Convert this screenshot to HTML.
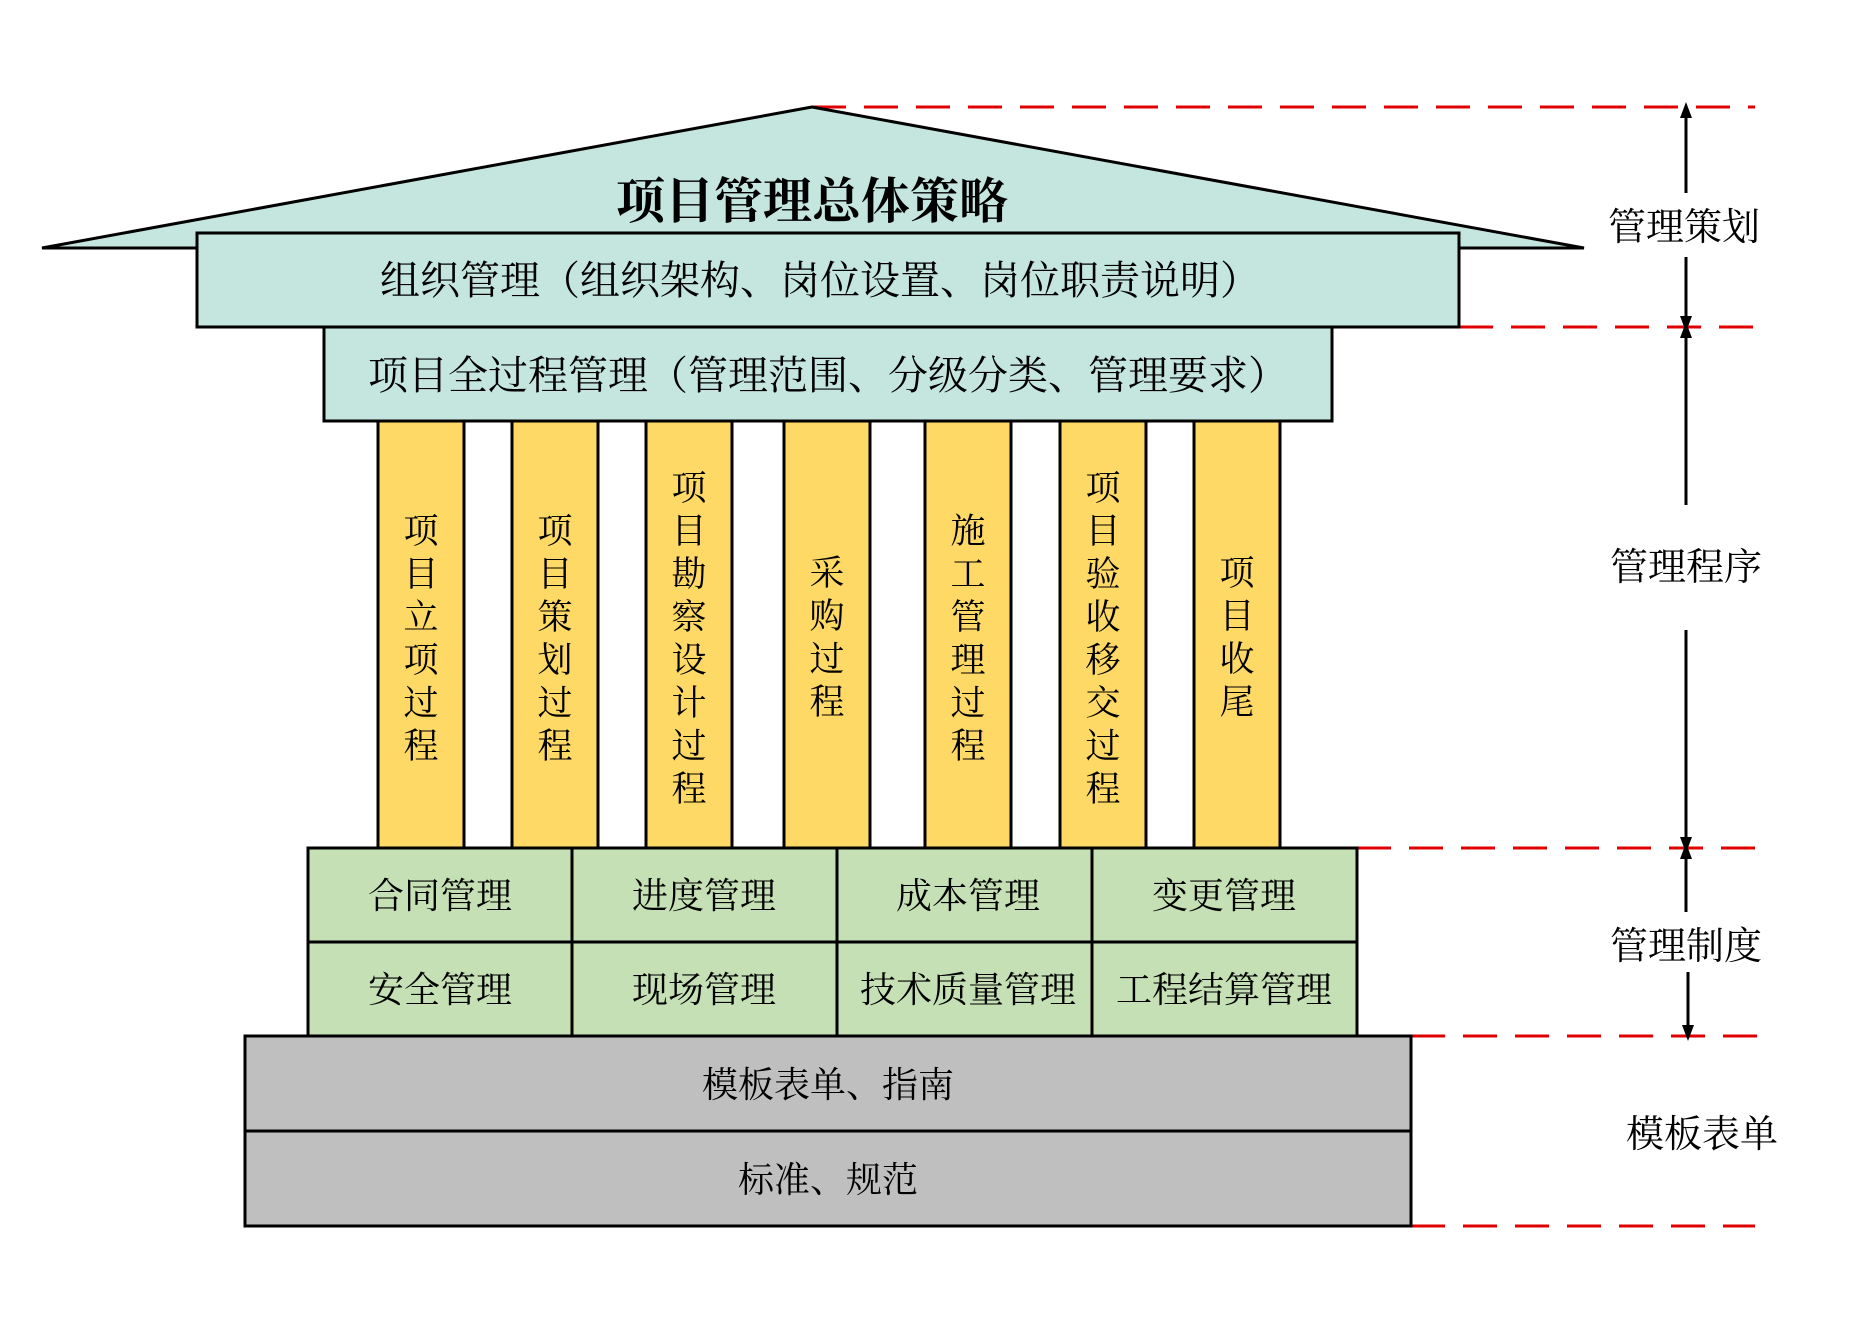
<!DOCTYPE html>
<html><head><meta charset="utf-8"><style>
html,body{margin:0;padding:0;background:#fff;}
svg{display:block;}
text{font-family:"Liberation Serif","Noto Serif CJK SC","Noto Sans CJK SC",serif;fill:#000;}
</style></head><body>
<svg width="1871" height="1323" viewBox="0 0 1871 1323" xmlns="http://www.w3.org/2000/svg">
<defs>
<marker id="ah" markerWidth="16" markerHeight="16" refX="8" refY="8" orient="auto-start-reverse" markerUnits="userSpaceOnUse">
<path d="M0,2 L16,8 L0,14 z" fill="#000"/></marker>
</defs>
<rect width="1871" height="1323" fill="#fff"/>
<g stroke="#e00000" stroke-width="3" stroke-dasharray="34,18">
<line x1="812" y1="107" x2="1755" y2="107"/>
<line x1="1459" y1="327" x2="1755" y2="327"/>
<line x1="1357" y1="848" x2="1765" y2="848"/>
<line x1="1411" y1="1036" x2="1765" y2="1036"/>
<line x1="1411" y1="1226" x2="1755" y2="1226"/>
</g>
<polygon points="812,107 42,248 1584,248" fill="#c4e6de" stroke="#000" stroke-width="3"/>
<text x="812" y="218" font-size="49" font-weight="bold" text-anchor="middle">项目管理总体策略</text>
<rect x="197" y="233" width="1262" height="94" fill="#c4e6de" stroke="#000" stroke-width="3"/>
<text x="820" y="294" font-size="40" text-anchor="middle">组织管理（组织架构、岗位设置、岗位职责说明）</text>
<rect x="324" y="327" width="1008" height="94" fill="#c4e6de" stroke="#000" stroke-width="3"/>
<text x="828" y="389" font-size="40" text-anchor="middle">项目全过程管理（管理范围、分级分类、管理要求）</text>
<g fill="#ffd966" stroke="#000" stroke-width="3">
<rect x="378" y="421" width="86" height="427"/>
<rect x="512" y="421" width="86" height="427"/>
<rect x="646" y="421" width="86" height="427"/>
<rect x="784" y="421" width="86" height="427"/>
<rect x="925" y="421" width="86" height="427"/>
<rect x="1060" y="421" width="86" height="427"/>
<rect x="1194" y="421" width="86" height="427"/>
</g>
<g font-size="35" text-anchor="middle">
<text x="421"><tspan x="421" y="543">项</tspan><tspan x="421" dy="43">目</tspan><tspan x="421" dy="43">立</tspan><tspan x="421" dy="43">项</tspan><tspan x="421" dy="43">过</tspan><tspan x="421" dy="43">程</tspan></text>
<text x="555"><tspan x="555" y="543">项</tspan><tspan x="555" dy="43">目</tspan><tspan x="555" dy="43">策</tspan><tspan x="555" dy="43">划</tspan><tspan x="555" dy="43">过</tspan><tspan x="555" dy="43">程</tspan></text>
<text x="689"><tspan x="689" y="500">项</tspan><tspan x="689" dy="43">目</tspan><tspan x="689" dy="43">勘</tspan><tspan x="689" dy="43">察</tspan><tspan x="689" dy="43">设</tspan><tspan x="689" dy="43">计</tspan><tspan x="689" dy="43">过</tspan><tspan x="689" dy="43">程</tspan></text>
<text x="827"><tspan x="827" y="585">采</tspan><tspan x="827" dy="43">购</tspan><tspan x="827" dy="43">过</tspan><tspan x="827" dy="43">程</tspan></text>
<text x="968"><tspan x="968" y="543">施</tspan><tspan x="968" dy="43">工</tspan><tspan x="968" dy="43">管</tspan><tspan x="968" dy="43">理</tspan><tspan x="968" dy="43">过</tspan><tspan x="968" dy="43">程</tspan></text>
<text x="1103"><tspan x="1103" y="500">项</tspan><tspan x="1103" dy="43">目</tspan><tspan x="1103" dy="43">验</tspan><tspan x="1103" dy="43">收</tspan><tspan x="1103" dy="43">移</tspan><tspan x="1103" dy="43">交</tspan><tspan x="1103" dy="43">过</tspan><tspan x="1103" dy="43">程</tspan></text>
<text x="1237"><tspan x="1237" y="585">项</tspan><tspan x="1237" dy="43">目</tspan><tspan x="1237" dy="43">收</tspan><tspan x="1237" dy="43">尾</tspan></text>
</g>
<g fill="#c5e0b4" stroke="#000" stroke-width="3">
<rect x="308" y="848" width="264" height="94"/><rect x="572" y="848" width="265" height="94"/>
<rect x="837" y="848" width="255" height="94"/><rect x="1092" y="848" width="265" height="94"/>
<rect x="308" y="942" width="264" height="94"/><rect x="572" y="942" width="265" height="94"/>
<rect x="837" y="942" width="255" height="94"/><rect x="1092" y="942" width="265" height="94"/>
</g>
<g font-size="36" text-anchor="middle">
<text x="440" y="908">合同管理</text><text x="704" y="908">进度管理</text><text x="968" y="908">成本管理</text><text x="1224" y="908">变更管理</text>
<text x="440" y="1002">安全管理</text><text x="704" y="1002">现场管理</text><text x="968" y="1002">技术质量管理</text><text x="1224" y="1002">工程结算管理</text>
</g>
<g fill="#bfbfbf" stroke="#000" stroke-width="3">
<rect x="245" y="1036" width="1166" height="95"/>
<rect x="245" y="1131" width="1166" height="95"/>
</g>
<g font-size="36" text-anchor="middle">
<text x="828" y="1097">模板表单、指南</text>
<text x="828" y="1192">标准、规范</text>
</g>
<g stroke="#000" stroke-width="3">
<line x1="1686" y1="110" x2="1686" y2="193" marker-start="url(#ah)"/>
<line x1="1686" y1="257" x2="1686" y2="324" marker-end="url(#ah)"/>
<line x1="1686" y1="330" x2="1686" y2="505" marker-start="url(#ah)"/>
<line x1="1686" y1="630" x2="1686" y2="845" marker-end="url(#ah)"/>
<line x1="1686" y1="851" x2="1686" y2="912" marker-start="url(#ah)"/>
<line x1="1688" y1="972" x2="1688" y2="1033" marker-end="url(#ah)"/>
</g>
<g font-size="38" text-anchor="middle">
<text x="1684" y="240">管理策划</text>
<text x="1686" y="580">管理程序</text>
<text x="1686" y="959">管理制度</text>
<text x="1702" y="1147">模板表单</text>
</g>
</svg>
</body></html>
